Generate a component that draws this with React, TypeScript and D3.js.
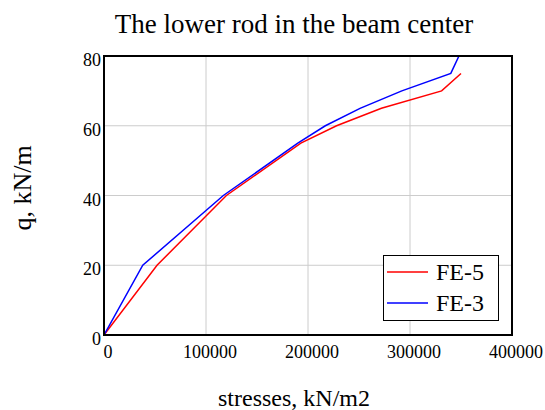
import React from "react";
import * as d3 from "d3";

const fe5Stress = [0, 52000, 120000, 193000, 228000, 272000, 331000, 350000];
const fe5Load = [0, 20, 40, 55, 60, 65, 70, 75];
const fe3Stress = [0, 38000, 117000, 190000, 217000, 251000, 292000, 340000, 348000];
const fe3Load = [0, 20, 40, 55, 60, 65, 70, 75, 80];
const xTicks = [0, 100000, 200000, 300000, 400000];
const yTicks = [0, 20, 40, 60, 80];
const seriesNames = ["FE-5", "FE-3"];
const seriesColors = ["#ff0000", "#0000ff"];

const W = 545, H = 410;
const m = { left: 104, right: 512, top: 56, bottom: 335 };
const font = "'Liberation Serif', 'Times New Roman', serif";

export default function App() {
  const x = d3.scaleLinear().domain([0, 400000]).range([m.left, m.right]);
  const y = d3.scaleLinear().domain([0, 80]).range([m.bottom, m.top]);
  const line = d3.line<[number, number]>().x(d => x(d[0])).y(d => y(d[1]));
  const series = [
    fe5Stress.map((s, i) => [s, fe5Load[i]] as [number, number]),
    fe3Stress.map((s, i) => [s, fe3Load[i]] as [number, number]),
  ];
  return (
    <svg width={W} height={H} style={{ position: "absolute", left: 0, top: 0 }} fontFamily={font}>
      <rect width={W} height={H} fill="#fff" />
      <text x={294} y={33} textAnchor="middle" fontSize={27}>The lower rod in the beam center</text>
      {xTicks.slice(1, -1).map(t => (
        <line key={"gx" + t} x1={x(t)} x2={x(t)} y1={m.top} y2={m.bottom} stroke="#cccccc" strokeWidth={1} />
      ))}
      {yTicks.slice(1, -1).map(t => (
        <line key={"gy" + t} x1={m.left} x2={m.right} y1={y(t)} y2={y(t)} stroke="#cccccc" strokeWidth={1} />
      ))}
      <defs>
        <clipPath id="clip">
          <rect x={m.left} y={m.top} width={m.right - m.left} height={m.bottom - m.top} />
        </clipPath>
      </defs>
      <g clipPath="url(#clip)">
        {series.map((d, i) => (
          <path key={i} d={line(d) || ""} fill="none" stroke={seriesColors[i]} strokeWidth={1.5} />
        ))}
      </g>
      <rect x={m.left} y={m.top} width={m.right - m.left} height={m.bottom - m.top} fill="none" stroke="#000" strokeWidth={2} />
      {xTicks.map(t => (
        <text key={"tx" + t} x={x(t) + 4} y={358} textAnchor="middle" fontSize={18}>{t}</text>
      ))}
      {yTicks.map(t => (
        <text key={"ty" + t} x={101} y={y(t) + 10} textAnchor="end" fontSize={18}>{t}</text>
      ))}
      <text x={294} y={406} textAnchor="middle" fontSize={24}>stresses, kN/m2</text>
      <text transform="translate(31,188) rotate(-90)" textAnchor="middle" fontSize={26}>q, kN/m</text>
      <rect x={383.5} y={255.5} width={115} height={65} fill="#fff" stroke="#000" strokeWidth={1} />
      {seriesNames.map((n, i) => (
        <g key={n}>
          <line x1={387} x2={428} y1={272 + i * 31} y2={272 + i * 31} stroke={seriesColors[i]} strokeWidth={1.5} />
          <text x={436} y={280 + i * 31} fontSize={24}>{n}</text>
        </g>
      ))}
    </svg>
  );
}
